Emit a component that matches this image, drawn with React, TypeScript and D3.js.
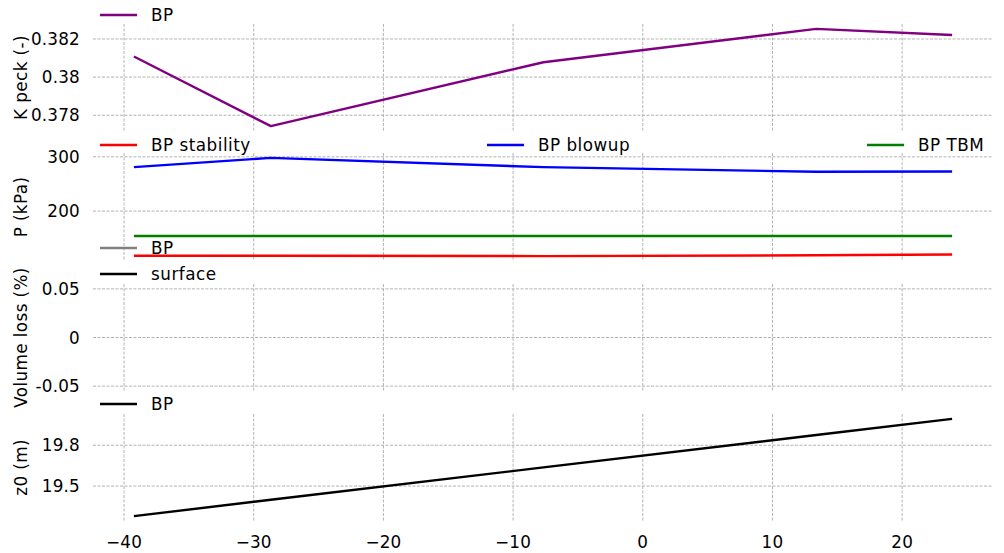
import React from "react";
import * as d3 from "d3";

const xs = [-39.24, -28.68, -7.66, 13.37, 23.85];
const kPeckBP = [0.38108, 0.37743, 0.38078, 0.38253, 0.38221];
const pStability = [117.5, 117.5, 117, 118.5, 120];
const pBlowup = [281, 298, 281, 272.5, 273];
const pTBM = [154, 154, 154, 154, 154];
const volBP: number[] = [];
const volSurface: number[] = [];
const z0BP = [19.279, 19.399, 19.637, 19.875, 19.994];

const xTicks = [-40, -30, -20, -10, 0, 10, 20];
const kTicks = [0.378, 0.38, 0.382];
const pTicks = [200, 300];
const vTicks = [-0.05, 0, 0.05];
const zTicks = [19.5, 19.8];

const W = 1004;
const H = 553;
const L = 93;
const R = 993;
const FONT = "DejaVu Sans, sans-serif";
const FS = 16.8;

function pad(vals: number[]): [number, number] {
  const [a, b] = d3.extent(vals) as [number, number];
  const m = (b - a) * 0.05;
  return [a - m, b + m];
}

const x = d3.scaleLinear().domain(pad(xs)).range([L, R]);

type Series = { values: number[]; color: string };

const fmtK = (v: number) => (v === 0.38 ? "0.38" : String(v));
const fmtMinus = (v: number) => String(v).replace("-", "\u2212");

function Panel(props: {
  top: number;
  bottom: number;
  domain: [number, number];
  ticks: number[];
  tickFmt: (v: number) => string;
  label: string;
  series: Series[];
}) {
  const { top, bottom, domain, ticks, tickFmt, label, series } = props;
  const y = d3.scaleLinear().domain(domain).range([bottom, top]);
  const line = d3
    .line<[number, number]>()
    .x((d) => x(d[0]))
    .y((d) => y(d[1]));
  return (
    <g>
      {xTicks.map((t) => (
        <line
          key={"vx" + t}
          x1={x(t)}
          x2={x(t)}
          y1={top}
          y2={bottom}
          stroke="#aaaaaa"
          strokeWidth={0.9}
          strokeDasharray="3,1.5"
        />
      ))}
      {ticks.map((t) => (
        <g key={"hy" + t}>
          <line
            x1={L}
            x2={R}
            y1={y(t)}
            y2={y(t)}
            stroke="#aaaaaa"
            strokeWidth={0.9}
            strokeDasharray="3,1.5"
          />
          <text
            x={80}
            y={y(t)}
            dy="0.36em"
            textAnchor="end"
            fontFamily={FONT}
            fontSize={FS}
            letterSpacing={0.2}
            fill="#000"
          >
            {tickFmt(t)}
          </text>
        </g>
      ))}
      {series.map((s, i) =>
        s.values.length ? (
          <path
            key={i}
            d={line(s.values.map((v, j) => [xs[j], v] as [number, number])) || ""}
            fill="none"
            stroke={s.color}
            strokeWidth={2.4}
            strokeLinejoin="round"
          />
        ) : null
      )}
      <text
        transform={`translate(27,${(top + bottom) / 2}) rotate(-90)`}
        textAnchor="middle"
        fontFamily={FONT}
        fontSize={FS}
        letterSpacing={0.4}
        fill="#000"
      >
        {label}
      </text>
    </g>
  );
}

function LegendItem(props: { x: number; y: number; color: string; text: string }) {
  const { x: lx, y: ly, color, text } = props;
  return (
    <g>
      <line x1={lx} x2={lx + 37} y1={ly} y2={ly} stroke={color} strokeWidth={2.4} />
      <text
        x={lx + 51}
        y={ly + 6.3}
        fontFamily={FONT}
        fontSize={FS}
        letterSpacing={0.5}
        fill="#000"
      >
        {text}
      </text>
    </g>
  );
}

export default function App() {
  return (
    <svg width={W} height={H} style={{ display: "block", position: "absolute", left: 0, top: 0 }}>
      <rect width={W} height={H} fill="#fff" />
      <Panel
        top={24}
        bottom={131}
        domain={pad(kPeckBP)}
        ticks={kTicks}
        tickFmt={fmtK}
        label="K peck (-)"
        series={[{ values: kPeckBP, color: "#800080" }]}
      />
      <Panel
        top={153}
        bottom={261}
        domain={pad([...pStability, ...pBlowup, ...pTBM])}
        ticks={pTicks}
        tickFmt={(v) => String(v)}
        label="P (kPa)"
        series={[
          { values: pStability, color: "#ff0000" },
          { values: pBlowup, color: "#0000ff" },
          { values: pTBM, color: "#008000" },
        ]}
      />
      <Panel
        top={284}
        bottom={391}
        domain={[-0.055, 0.055]}
        ticks={vTicks}
        tickFmt={(v) => String(v)}
        label="Volume loss (%)"
        series={[
          { values: volBP, color: "#808080" },
          { values: volSurface, color: "#000000" },
        ]}
      />
      <Panel
        top={414}
        bottom={521}
        domain={pad(z0BP)}
        ticks={zTicks}
        tickFmt={(v) => String(v)}
        label="z0 (m)"
        series={[{ values: z0BP, color: "#000000" }]}
      />
      {xTicks.map((t) => (
        <text
          key={"xt" + t}
          x={x(t)}
          y={548}
          textAnchor="middle"
          fontFamily={FONT}
          fontSize={FS}
          letterSpacing={0.2}
          fill="#000"
        >
          {fmtMinus(t)}
        </text>
      ))}
      <LegendItem x={100} y={15} color="#800080" text="BP" />
      <LegendItem x={100} y={145} color="#ff0000" text="BP stability" />
      <LegendItem x={487} y={145} color="#0000ff" text="BP blowup" />
      <LegendItem x={867} y={145} color="#008000" text="BP TBM" />
      <LegendItem x={100} y={248} color="#808080" text="BP" />
      <LegendItem x={100} y={274} color="#000000" text="surface" />
      <LegendItem x={100} y={404} color="#000000" text="BP" />
    </svg>
  );
}
